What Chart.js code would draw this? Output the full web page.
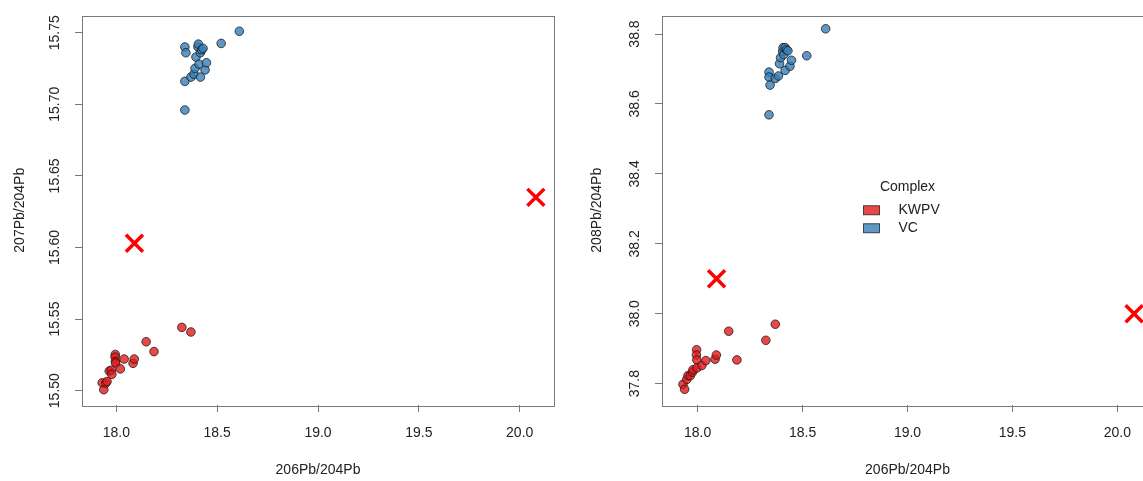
<!DOCTYPE html>
<html>
<head>
<meta charset="utf-8">
<script src="https://cdn.jsdelivr.net/npm/chart.js@4/dist/chart.umd.min.js"></script>
<style>
  html, body { margin: 0; padding: 0; background: #fff; overflow: hidden; }
  #wrap { position: relative; width: 1143px; height: 481px; overflow: hidden; }
  canvas { position: absolute; top: 0; }
</style>
</head>
<body>
<div id="wrap">
  <canvas id="left" width="570" height="481" style="left:0px"></canvas>
  <canvas id="right" width="600" height="481" style="left:580px"></canvas>
</div>
<script>
// groups
const groups = ["KWPV", "VC"];

// KWPV samples: 206Pb/204Pb, 207Pb/204Pb, 208Pb/204Pb
const kwpvX = [17.930, 17.938, 17.948, 17.954, 17.965, 17.975, 17.978, 17.995, 17.994, 17.996,
               17.997, 18.020, 18.039, 18.083, 18.089, 18.148, 18.187, 18.325, 18.370];
const kwpv207 = [15.5055, 15.5007, 15.5053, 15.5064, 15.5137, 15.5143, 15.5114, 15.5253, 15.5234, 15.5203,
                 15.5193, 15.5152, 15.5221, 15.5191, 15.5221, 15.5342, 15.5273, 15.5442, 15.5410];
const kwpv208 = [37.798, 37.784, 37.812, 37.823, 37.823, 37.833, 37.840, 37.897, 37.882, 37.868,
                 37.845, 37.852, 37.866, 37.870, 37.882, 37.950, 37.868, 37.924, 37.970];

// VC samples
const vcX = [18.340, 18.340, 18.340, 18.345, 18.370, 18.385, 18.390, 18.395, 18.405, 18.407,
             18.410, 18.417, 18.417, 18.423, 18.430, 18.440, 18.447, 18.520, 18.610];
const vc207 = [15.740, 15.716, 15.696, 15.736, 15.719, 15.721, 15.725, 15.733, 15.740, 15.742,
               15.728, 15.736, 15.719, 15.738, 15.739, 15.724, 15.729, 15.7425, 15.751];
const vc208 = [38.691, 38.677, 38.569, 38.654, 38.673, 38.680, 38.715, 38.732, 38.750, 38.761,
               38.741, 38.761, 38.696, 38.755, 38.752, 38.708, 38.725, 38.738, 38.815];

// red crosses
const crossX = [18.09, 20.08];
const cross207 = [15.603, 15.635];
const cross208 = [38.10, 38.00];

// tick labels
const xTicks = [18.0, 18.5, 19.0, 19.5, 20.0];
const y207Ticks = [15.50, 15.55, 15.60, 15.65, 15.70, 15.75];
const y208Ticks = [37.8, 38.0, 38.2, 38.4, 38.6, 38.8];

const FONT = "'Liberation Sans', Arial, sans-serif";
const RED = "rgba(228, 26, 28, 0.8)";
const BLUE = "rgba(55, 126, 184, 0.8)";
const EDGE = "rgba(20, 20, 20, 0.75)";
const AXIS = "#7a7a7a";

function pts(xs, ys) {
  return xs.map((x, i) => ({ x: x, y: ys[i] }));
}

// box around the plot + rotated y tick labels, like base R graphics
const rAxes = {
  id: "rAxes",
  afterDraw(chart, args, opts) {
    const ctx = chart.ctx;
    const a = chart.chartArea;
    ctx.save();
    ctx.strokeStyle = AXIS;
    ctx.lineWidth = 1;
    ctx.strokeRect(Math.round(a.left) + 0.5, Math.round(a.top) + 0.5,
                   Math.round(a.right - a.left), Math.round(a.bottom - a.top));
    const ys = chart.scales.y;
    ctx.fillStyle = "#222";
    ctx.font = "14px " + FONT;
    ctx.textAlign = "center";
    ctx.textBaseline = "middle";
    ys.ticks.forEach(t => {
      const py = ys.getPixelForValue(t.value);
      ctx.save();
      ctx.translate(a.left - 27, py);
      ctx.rotate(-Math.PI / 2);
      ctx.fillText(t.value.toFixed(opts.digits), 0, 0);
      ctx.restore();
    });
    ctx.restore();
  }
};

// legend drawn in the middle of the plot (R legend("center", bty = "n"))
const centerLegend = {
  id: "centerLegend",
  afterDraw(chart, args, opts) {
    if (!opts.show) return;
    const ctx = chart.ctx;
    const a = chart.chartArea;
    const cx = (a.left + a.right) / 2;
    const cy = (a.top + a.bottom) / 2;
    ctx.save();
    ctx.font = "14px " + FONT;
    ctx.fillStyle = "#222";
    ctx.textBaseline = "middle";
    ctx.textAlign = "center";
    ctx.fillText("Complex", cx, cy - 23);
    ctx.textAlign = "left";
    [RED, BLUE].forEach((c, i) => {
      const y = cy + i * 18;
      ctx.fillStyle = c;
      ctx.fillRect(cx - 44, y - 4.5, 16, 9);
      ctx.strokeStyle = EDGE;
      ctx.lineWidth = 1;
      ctx.strokeRect(cx - 44, y - 4.5, 16, 9);
      ctx.fillStyle = "#222";
      ctx.fillText(groups[i], cx - 9, y);
    });
    ctx.restore();
  }
};

function makePlot(id, kY, vY, cY, yTicks, yMin, yMax, yTitle, digits, titlePad, padRight, legend) {
  const ctx = document.getElementById(id).getContext("2d");
  return new Chart(ctx, {
    type: "scatter",
    data: {
      datasets: [
        {
          label: groups[0],
          data: pts(kwpvX, kY),
          backgroundColor: RED,
          borderColor: EDGE,
          borderWidth: 1,
          pointRadius: 4.3,
        },
        {
          label: groups[1],
          data: pts(vcX, vY),
          backgroundColor: BLUE,
          borderColor: EDGE,
          borderWidth: 1,
          pointRadius: 4.3,
        },
        {
          label: "marker",
          data: pts(crossX, cY),
          pointStyle: "crossRot",
          borderColor: "#ff0000",
          backgroundColor: "#ff0000",
          borderWidth: 3.5,
          pointRadius: 12,
        },
      ],
    },
    options: {
      responsive: false,
      animation: false,
      layout: { padding: { top: 10, right: padRight, left: 0, bottom: 0 } },
      scales: {
        x: {
          type: "linear",
          min: 17.83,
          max: 20.17,
          afterBuildTicks: s => { s.ticks = xTicks.map(v => ({ value: v })); },
          afterFit: s => { s.height = 76; },
          border: { display: false },
          grid: { drawOnChartArea: false, drawTicks: true, tickLength: 7, color: AXIS },
          ticks: {
            color: "#222",
            padding: 13,
            maxRotation: 0,
            font: { family: FONT, size: 14 },
            callback: v => Number(v).toFixed(1),
          },
          title: {
            display: true,
            text: "206Pb/204Pb",
            color: "#222",
            font: { family: FONT, size: 14 },
            padding: { top: 0, bottom: 2 },
          },
        },
        y: {
          type: "linear",
          min: yMin,
          max: yMax,
          afterBuildTicks: s => { s.ticks = yTicks.map(v => ({ value: v })); },
          afterFit: s => { s.width = 82; },
          border: { display: false },
          grid: { drawOnChartArea: false, drawTicks: true, tickLength: 7, color: AXIS },
          ticks: { display: false },
          title: {
            display: true,
            text: yTitle,
            color: "#222",
            font: { family: FONT, size: 14 },
            padding: { top: titlePad, bottom: 0 },
          },
        },
      },
      plugins: {
        legend: { display: false },
        tooltip: { enabled: false },
        rAxes: { digits: digits },
        centerLegend: { show: legend },
      },
    },
    plugins: [rAxes, centerLegend],
  });
}

makePlot("left", kwpv207, vc207, cross207, y207Ticks, 15.490, 15.762, "207Pb/204Pb", 2, 12, 16, false);
makePlot("right", kwpv208, vc208, cross208, y208Ticks, 37.739, 38.853, "208Pb/204Pb", 1, 9, 27, true);
</script>
</body>
</html>
